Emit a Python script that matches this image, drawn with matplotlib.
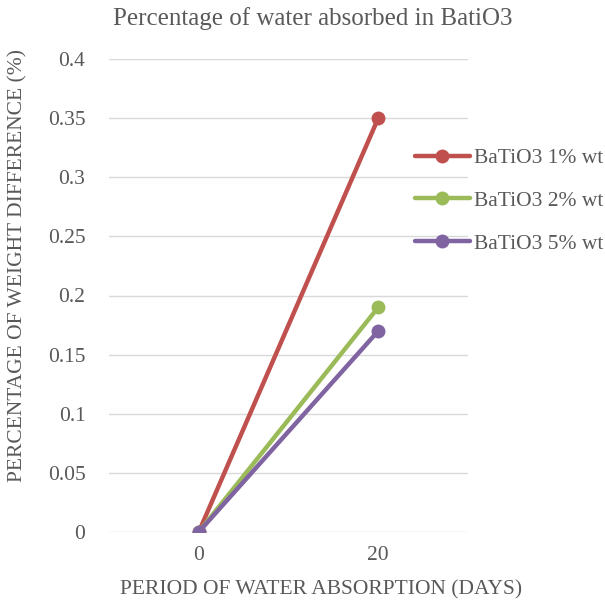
import matplotlib
matplotlib.use("Agg")
import matplotlib.pyplot as plt

categories = ["0", "20"]
series_names = ["BaTiO3 1% wt", "BaTiO3 2% wt", "BaTiO3 5% wt"]
s1 = [0.0, 0.35]
s2 = [0.0, 0.19]
s3 = [0.0, 0.17]
colors = ["#C0504D", "#9BBB59", "#8064A2"]
yticks = [0, 0.05, 0.1, 0.15, 0.2, 0.25, 0.3, 0.35, 0.4]
ytick_labels = ["0", "0.05", "0.1", "0.15", "0.2", "0.25", "0.3", "0.35", "0.4"]

plt.rcParams['font.family'] = ['Liberation Serif', 'DejaVu Serif']
txt = "#595959"
W, H = 605, 602

fig = plt.figure(figsize=(6.05, 6.02), dpi=100)
ax = fig.add_axes([109 / W, 1 - 532 / H, (468 - 109) / W, (532 - 59) / H])

xs = [0, 1]
for vals, c, n in zip([s1, s2, s3], colors, series_names):
    ax.plot(xs, vals, color=c, lw=3.2, marker='o', ms=9, label=n,
            solid_capstyle='round', zorder=3)

ax.set_xlim(-0.5, 1.5)
ax.set_ylim(0, 0.4)
ax.set_yticks(yticks)
ax.set_yticklabels(ytick_labels)
ax.set_xticks(xs)
ax.set_xticklabels(categories)
ax.grid(axis='y', color='#D9D9D9', lw=1)
ax.set_axisbelow(True)
for s in ax.spines.values():
    s.set_visible(False)
ax.tick_params(axis='both', length=0, labelsize=15.5, colors=txt)
ax.tick_params(axis='y', pad=17)
ax.tick_params(axis='x', pad=10)

fig.text(313 / W, 1 - 19 / H, "Percentage of water absorbed in BatiO3",
         fontsize=18, color=txt, ha='center', va='center')
fig.text(321 / W, 1 - 590 / H, "PERIOD OF WATER ABSORPTION (DAYS)",
         fontsize=15.5, color=txt, ha='center', va='center')
fig.text(18 / W, 1 - 266 / H, "PERCENTAGE OF WEIGHT DIFFERENCE (%)",
         fontsize=15.5, color=txt, ha='center', va='center', rotation=90)

leg = ax.legend(loc='upper left', bbox_to_anchor=(415 / W, 1 - 148 / H),
                bbox_transform=fig.transFigure, frameon=False,
                fontsize=15.5, labelcolor=txt, handlelength=2.55, handletextpad=0.2,
                labelspacing=1.06, borderaxespad=0, borderpad=0)

fig.savefig("out.png", dpi=100)
